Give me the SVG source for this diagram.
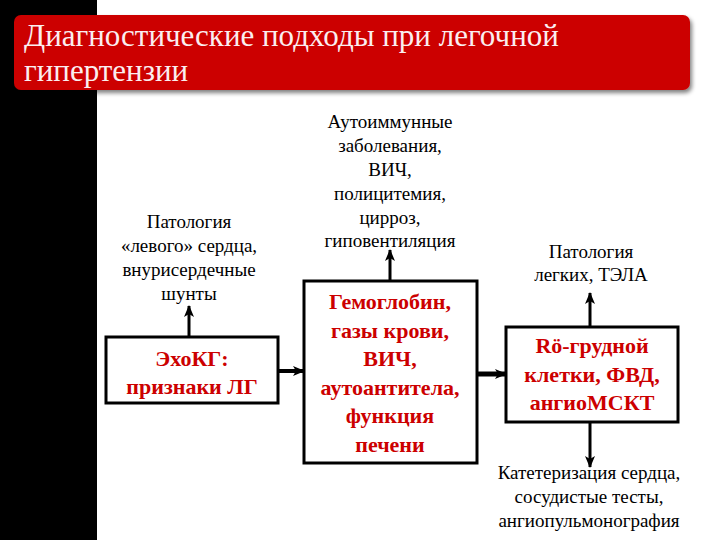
<svg xmlns="http://www.w3.org/2000/svg" width="720" height="540" viewBox="0 0 720 540">
<defs>
<marker id="ah" markerUnits="userSpaceOnUse" markerWidth="12" markerHeight="12" viewBox="0 0 12 12" refX="11" refY="6" orient="auto">
<path d="M0,1 L12,6 L0,11 L3,6 Z" fill="#000"/>
</marker>
<filter id="sh" x="-5%" y="-20%" width="110%" height="150%">
<feGaussianBlur in="SourceAlpha" stdDeviation="2"/>
<feOffset dx="2" dy="3" result="b"/>
<feComponentTransfer><feFuncA type="linear" slope="0.5"/></feComponentTransfer>
<feMerge><feMergeNode/><feMergeNode in="SourceGraphic"/></feMerge>
</filter>
</defs>
<rect x="0" y="0" width="720" height="540" fill="#fff"/>
<rect x="0" y="0" width="97" height="540" fill="#000"/>
<g id="title">
<rect x="14" y="15" width="676" height="75" rx="7" fill="#cc0000" filter="url(#sh)"/>
<text font-family="Liberation Serif" font-size="31" fill="#fbeef0" x="24" y="46">Диагностические подходы при легочной</text>
<text font-family="Liberation Serif" font-size="31" fill="#fbeef0" x="24" y="81">гипертензии</text>
</g>
<g id="connectors" stroke="#000" fill="none" stroke-width="3" marker-end="url(#ah)">
<line x1="189" y1="337" x2="189" y2="306"/>
<line x1="390" y1="281" x2="390" y2="250"/>
<line x1="590" y1="327" x2="590" y2="293"/>
<line x1="590" y1="422" x2="590" y2="467"/>
<line x1="279" y1="371" x2="304" y2="371" stroke-width="4"/>
<line x1="477" y1="374" x2="506" y2="374" stroke-width="5"/>
</g>
<g id="label-left" font-size="19" fill="#000" text-anchor="middle">
<text font-family="Liberation Serif" x="189" y="228">Патология</text>
<text font-family="Liberation Serif" x="189" y="252">«левого» сердца,</text>
<text font-family="Liberation Serif" x="189" y="276">внурисердечные</text>
<text font-family="Liberation Serif" x="189" y="300">шунты</text>
</g>
<g id="label-mid" font-size="19" fill="#000" text-anchor="middle">
<text font-family="Liberation Serif" x="390" y="128">Аутоиммунные</text>
<text font-family="Liberation Serif" x="390" y="152">заболевания,</text>
<text font-family="Liberation Serif" x="390" y="176">ВИЧ,</text>
<text font-family="Liberation Serif" x="390" y="200">полицитемия,</text>
<text font-family="Liberation Serif" x="390" y="224">цирроз,</text>
<text font-family="Liberation Serif" x="390" y="247">гиповентиляция</text>
</g>
<g id="label-right" font-size="19" fill="#000" text-anchor="middle">
<text font-family="Liberation Serif" x="591" y="258">Патология</text>
<text font-family="Liberation Serif" x="591" y="281">легких, ТЭЛА</text>
</g>
<g id="label-bottom" font-size="19" fill="#000" text-anchor="middle">
<text font-family="Liberation Serif" x="589" y="479">Катетеризация сердца,</text>
<text font-family="Liberation Serif" x="589" y="503">сосудистые тесты,</text>
<text font-family="Liberation Serif" x="589" y="527">ангиопульмонография</text>
</g>
<g id="node-echo" font-size="22" font-weight="bold" fill="#cc0000" text-anchor="middle">
<rect x="106" y="337" width="172" height="66" fill="#fff" stroke="#000" stroke-width="3"/>
<text font-family="Liberation Serif" x="192" y="366">ЭхоКГ:</text>
<text font-family="Liberation Serif" x="192" y="394">признаки ЛГ</text>
</g>
<g id="node-blood" font-size="22" font-weight="bold" fill="#cc0000" text-anchor="middle">
<rect x="304" y="281" width="173" height="182" fill="#fff" stroke="#000" stroke-width="3"/>
<text font-family="Liberation Serif" x="390" y="309">Гемоглобин,</text>
<text font-family="Liberation Serif" x="390" y="338">газы крови,</text>
<text font-family="Liberation Serif" x="390" y="366">ВИЧ,</text>
<text font-family="Liberation Serif" x="390" y="395">аутоантитела,</text>
<text font-family="Liberation Serif" x="390" y="423">функция</text>
<text font-family="Liberation Serif" x="390" y="452">печени</text>
</g>
<g id="node-xray" font-size="22" font-weight="bold" fill="#cc0000" text-anchor="middle">
<rect x="506" y="327" width="172" height="95" fill="#fff" stroke="#000" stroke-width="3"/>
<text font-family="Liberation Serif" x="592" y="353">Rö-грудной</text>
<text font-family="Liberation Serif" x="592" y="382">клетки, ФВД,</text>
<text font-family="Liberation Serif" x="592" y="410">ангиоМСКТ</text>
</g>
</svg>
